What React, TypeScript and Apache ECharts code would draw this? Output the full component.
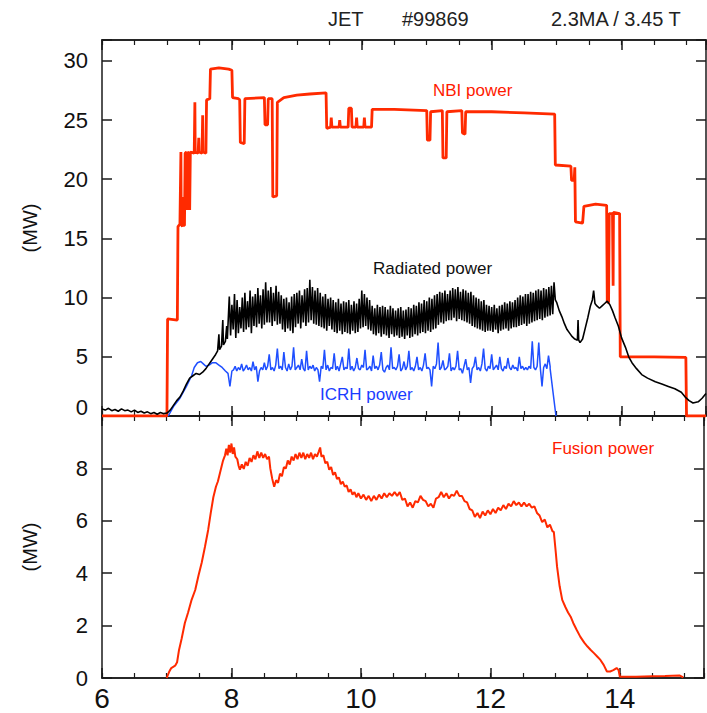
import React, { useEffect, useRef } from "react";
import * as echarts from "echarts";

// ---------- data ----------
const X_TICK_LABELS = [6, 8, 10, 12, 14];

// NBI power (MW) – step-like trace
const nbiPower: [number, number][] = [
  [6.0, 0], [7.0, 0], [7.01, 8.2], [7.16, 8.1], [7.17, 16.0], [7.2, 16.2], [7.215, 22.3], [7.22, 16.2],
  [7.24, 16.0], [7.25, 18.5], [7.255, 16.1], [7.27, 16.1], [7.28, 22.2], [7.3, 22.3], [7.31, 17.4],
  [7.32, 22.2], [7.34, 22.3], [7.35, 17.4], [7.36, 22.3], [7.42, 22.2], [7.43, 26.5], [7.435, 22.3],
  [7.48, 22.2], [7.49, 23.5], [7.495, 22.3], [7.54, 22.2], [7.55, 25.4], [7.555, 22.3], [7.6, 22.2],
  [7.61, 26.7], [7.66, 26.8], [7.67, 29.3], [7.8, 29.4], [7.95, 29.3], [8.0, 29.2], [8.01, 26.9],
  [8.1, 26.8], [8.12, 26.7], [8.13, 23.1], [8.19, 23.0], [8.2, 26.8], [8.5, 26.9], [8.51, 24.6],
  [8.55, 24.6], [8.56, 26.8], [8.62, 26.8], [8.63, 18.5], [8.69, 18.6], [8.7, 26.5], [8.8, 26.9],
  [9.0, 27.1], [9.2, 27.2], [9.45, 27.3], [9.46, 24.3], [9.52, 24.4], [9.53, 25.2], [9.54, 24.4],
  [9.65, 24.4], [9.66, 25.0], [9.67, 24.4], [9.79, 24.4], [9.8, 26.0], [9.84, 26.0], [9.85, 24.4],
  [9.91, 24.4], [9.92, 25.2], [9.93, 24.4], [10.03, 24.4], [10.04, 25.2], [10.05, 24.4], [10.15, 24.4],
  [10.16, 25.9], [10.5, 25.9], [11.0, 25.8], [11.01, 23.3], [11.05, 23.3], [11.06, 25.7], [11.24, 25.8],
  [11.25, 21.8], [11.3, 21.8], [11.31, 25.7], [11.54, 25.8], [11.55, 23.9], [11.59, 23.8], [11.6, 25.7],
  [12.0, 25.7], [12.5, 25.6], [12.97, 25.5], [12.98, 21.2], [13.22, 21.1], [13.23, 19.9], [13.27, 19.9],
  [13.28, 21.0], [13.29, 16.4], [13.4, 16.3], [13.42, 17.7], [13.6, 17.9], [13.77, 17.8], [13.78, 9.6],
  [13.8, 9.6], [13.81, 17.1], [13.86, 17.1], [13.87, 11.0], [13.875, 17.2], [13.97, 17.1], [13.98, 5.0],
  [14.5, 5.0], [14.99, 4.95], [15.0, 0], [15.3, 0],
];

// Radiated power (MW)
const radiatedHead: [number, number][] = [
  [6.0, 0.6], [6.05, 0.5], [6.1, 0.65], [6.15, 0.45], [6.2, 0.55], [6.25, 0.4], [6.3, 0.6], [6.35, 0.45],
  [6.4, 0.5], [6.45, 0.35], [6.5, 0.5], [6.55, 0.3], [6.6, 0.4], [6.65, 0.25], [6.7, 0.35], [6.75, 0.2],
  [6.8, 0.3], [6.85, 0.15], [6.9, 0.3], [6.95, 0.2], [7.0, 0.25], [7.05, 0.5], [7.1, 0.9], [7.15, 1.3],
  [7.2, 1.6], [7.25, 2.1], [7.3, 2.7], [7.35, 3.2], [7.4, 3.4], [7.45, 3.6], [7.5, 3.5], [7.55, 3.7],
  [7.6, 4.0], [7.65, 4.4], [7.7, 4.8], [7.75, 5.2], [7.78, 5.5], [7.8, 6.9], [7.81, 5.6], [7.84, 5.9],
  [7.86, 8.1], [7.87, 6.0], [7.9, 6.3], [7.92, 7.6], [7.93, 6.5],
];
// sampled every 0.02 s from 7.96 s
const RAD_START = 7.96;
const RAD_STEP = 0.02;
const radiatedSamples = [
  10.1, 6.8, 9.4, 7.3, 10.3, 6.6, 9.8, 7.0, 9.2, 7.4,
  10.0, 7.1, 10.4, 7.3, 9.7, 7.5, 10.6, 7.0, 10.1, 7.6,
  10.3, 7.5, 10.8, 7.8, 10.2, 7.4, 10.7, 7.7, 11.3, 7.9,
  10.6, 7.9, 10.9, 7.6, 10.4, 8.0, 11.0, 7.7, 10.5, 7.8,
  10.2, 7.3, 9.9, 7.1, 10.0, 7.4, 9.6, 7.2, 10.1, 7.0,
  10.3, 7.5, 10.4, 7.8, 10.6, 7.4, 10.2, 7.9, 10.7, 7.6,
  10.8, 7.9, 11.5, 8.1, 10.9, 7.8, 10.6, 7.7, 10.8, 7.6,
  10.4, 7.5, 10.1, 7.4, 10.3, 7.2, 9.9, 7.6, 10.0, 7.3,
  9.8, 7.1, 9.6, 7.0, 9.9, 7.2, 9.5, 6.9, 9.7, 7.1,
  9.6, 7.0, 9.8, 6.9, 9.4, 7.2, 9.7, 7.0, 9.5, 7.1,
  9.9, 7.4, 10.6, 7.5, 10.3, 7.6, 10.0, 7.3, 9.8, 7.2,
  9.3, 6.9, 9.1, 6.8, 9.4, 7.0, 9.2, 6.7, 9.3, 6.9,
  9.2, 6.8, 9.0, 6.6, 9.3, 6.9, 9.1, 6.7, 8.9, 6.8,
  9.1, 6.6, 9.2, 6.7, 8.9, 6.5, 9.0, 6.8, 9.2, 6.6,
  9.1, 6.7, 9.4, 6.9, 9.3, 6.8, 9.6, 7.0, 9.5, 7.1,
  9.8, 7.0, 9.7, 7.2, 10.0, 7.1, 9.9, 7.3, 10.2, 7.4,
  10.3, 7.7, 10.5, 7.9, 10.4, 7.8, 10.6, 8.0, 10.3, 8.1,
  10.6, 8.1, 10.8, 8.3, 10.7, 8.0, 10.9, 8.2, 10.5, 8.1,
  10.7, 8.0, 10.6, 7.9, 10.4, 7.8, 10.5, 7.6, 10.2, 7.5,
  10.0, 7.4, 9.9, 7.3, 9.7, 7.2, 9.8, 7.1, 9.4, 7.2,
  9.3, 7.2, 9.2, 7.1, 9.4, 7.3, 9.1, 7.0, 9.3, 7.2,
  9.4, 7.3, 9.6, 7.4, 9.5, 7.2, 9.7, 7.4, 9.6, 7.5,
  9.8, 7.5, 10.0, 7.6, 10.2, 7.7, 10.1, 7.8, 10.3, 7.6,
  10.3, 7.8, 10.5, 7.9, 10.4, 8.0, 10.6, 8.1, 10.7, 8.2,
  10.6, 8.1, 10.8, 8.3, 10.7, 8.4, 10.9, 8.5, 11.0, 8.6,
  11.3, 9.8,
];
const radiatedTail: [number, number][] = [
  [13.0, 9.6], [13.04, 8.9], [13.08, 8.4], [13.12, 7.8], [13.16, 7.3], [13.2, 7.0], [13.24, 6.7],
  [13.28, 6.5], [13.32, 6.4], [13.33, 8.1], [13.34, 6.4], [13.36, 6.2], [13.4, 6.5], [13.44, 7.4],
  [13.48, 8.3], [13.52, 9.3], [13.55, 9.8], [13.57, 10.6], [13.59, 9.5], [13.62, 9.3], [13.66, 9.1],
  [13.7, 9.3], [13.74, 9.5], [13.78, 9.7], [13.82, 9.4], [13.86, 8.9], [13.9, 8.3], [13.95, 7.6],
  [14.0, 6.6], [14.06, 5.8], [14.11, 5.0], [14.16, 4.5], [14.23, 4.0], [14.31, 3.5], [14.4, 3.2],
  [14.52, 2.9], [14.62, 2.7], [14.72, 2.5], [14.82, 2.3], [14.92, 2.0], [14.98, 1.6], [15.04, 1.3],
  [15.1, 1.1], [15.18, 1.2], [15.24, 1.5], [15.3, 1.9],
];

// ICRH power (MW)
const icrhHead: [number, number][] = [
  [7.02, 0], [7.1, 0.8], [7.2, 1.5], [7.3, 2.5], [7.38, 3.4], [7.42, 4.1], [7.47, 4.5], [7.52, 4.6],
  [7.56, 4.4], [7.6, 4.2], [7.65, 4.3], [7.7, 4.5], [7.75, 4.5], [7.8, 4.3], [7.85, 4.1], [7.9, 3.8],
  [7.94, 3.6], [7.97, 2.5], [8.0, 3.8],
];
// sampled every 0.025 s from 8.025 s
const ICRH_START = 8.025;
const ICRH_STEP = 0.025;
const icrhSamples = [
  3.9, 4.2, 3.8, 4.1, 3.9, 4.4, 3.8, 4.0, 4.3, 3.9,
  4.1, 3.8, 4.6, 3.9, 4.2, 2.9, 3.8, 4.1, 3.9, 4.5,
  3.9, 4.2, 5.2, 3.9, 4.1, 3.8, 4.3, 5.7, 4.0, 4.2,
  3.9, 5.4, 4.1, 3.8, 4.4, 3.9, 4.2, 5.8, 3.9, 4.1,
  4.3, 3.9, 4.8, 4.0, 3.8, 5.5, 3.9, 4.2, 4.0, 4.3,
  3.8, 4.1, 3.9, 2.9, 4.2, 4.0, 5.6, 3.9, 4.3, 3.8,
  4.1, 4.0, 5.3, 3.9, 4.2, 3.8, 4.4, 5.0, 3.9, 4.1,
  4.0, 5.7, 3.9, 4.2, 3.8, 4.1, 4.9, 4.0, 3.9, 4.3,
  4.1, 5.6, 3.9, 4.0, 4.2, 3.8, 5.1, 4.0, 4.2, 3.9,
  4.3, 5.4, 3.9, 3.7, 4.1, 4.3, 3.9, 5.8, 4.0, 4.1,
  3.9, 4.2, 5.2, 3.8, 4.0, 4.6, 3.9, 4.2, 5.5, 3.9,
  4.1, 3.8, 4.2, 5.0, 3.9, 4.1, 3.8, 4.3, 5.3, 4.0,
  4.1, 3.9, 2.5, 4.2, 4.0, 4.4, 6.2, 3.9, 4.1, 4.7,
  3.9, 4.0, 4.2, 5.3, 3.8, 4.1, 3.9, 4.2, 5.5, 3.9,
  4.0, 3.6, 4.2, 4.8, 3.9, 4.1, 2.8, 4.0, 4.2, 5.0,
  3.9, 4.1, 3.8, 4.4, 5.7, 4.0, 3.8, 4.2, 4.0, 5.2,
  3.9, 4.1, 4.3, 3.9, 5.0, 4.0, 3.8, 4.2, 4.0, 4.9,
  4.1, 3.9, 4.3, 4.0, 4.1, 3.8, 5.0, 4.0, 4.2, 3.9,
  4.1, 3.9, 4.2, 4.0, 6.3, 4.1, 3.9, 4.2, 6.2, 4.0,
  2.5, 4.1, 4.4, 4.0, 5.1, 4.2,
];
const icrhTail: [number, number][] = [[12.9, 4.0], [12.94, 2.2], [12.99, 0.0]];

// Fusion power (MW)
const fusionPower: [number, number][] = [
  [7.0, 0], [7.04, 0.25], [7.07, 0.38], [7.13, 0.47], [7.16, 0.6], [7.19, 1.07], [7.23, 1.5], [7.28, 2.1],
  [7.33, 2.5], [7.38, 2.95], [7.44, 3.36], [7.49, 3.9], [7.54, 4.4], [7.59, 5.0], [7.64, 5.65], [7.68, 6.3],
  [7.72, 6.9], [7.76, 7.3], [7.79, 7.5], [7.83, 7.9], [7.87, 8.3], [7.9, 8.5], [7.92, 8.75], [7.94, 8.5],
  [7.96, 8.9], [7.98, 8.6], [8.0, 8.95], [8.02, 8.55], [8.04, 8.8], [8.06, 8.45], [8.09, 8.35], [8.11, 8.1],
  [8.13, 7.95], [8.16, 8.15], [8.19, 7.98], [8.22, 8.25], [8.25, 8.1], [8.28, 8.4], [8.31, 8.25], [8.34, 8.5],
  [8.37, 8.35], [8.4, 8.65], [8.43, 8.4], [8.46, 8.6], [8.49, 8.4], [8.52, 8.55], [8.55, 8.35], [8.58, 8.45],
  [8.6, 8.0], [8.63, 7.6], [8.66, 7.3], [8.69, 7.55], [8.72, 7.45], [8.75, 7.8], [8.78, 7.7], [8.81, 8.05],
  [8.84, 8.0], [8.87, 8.3], [8.9, 8.15], [8.93, 8.45], [8.96, 8.3], [8.99, 8.55], [9.02, 8.35], [9.05, 8.6],
  [9.08, 8.4], [9.11, 8.6], [9.14, 8.35], [9.17, 8.55], [9.2, 8.4], [9.23, 8.6], [9.26, 8.35], [9.29, 8.55],
  [9.32, 8.45], [9.35, 8.65], [9.37, 8.8], [9.39, 8.45], [9.42, 8.5], [9.45, 8.2], [9.48, 8.25], [9.51, 7.95],
  [9.54, 8.05], [9.57, 7.75], [9.6, 7.85], [9.63, 7.6], [9.66, 7.65], [9.69, 7.4], [9.72, 7.5], [9.75, 7.3],
  [9.78, 7.35], [9.81, 7.1], [9.84, 7.2], [9.87, 7.0], [9.9, 7.1], [9.93, 6.9], [9.96, 7.05], [10.0, 6.85],
  [10.04, 7.0], [10.08, 6.8], [10.12, 6.95], [10.16, 6.75], [10.2, 6.95], [10.24, 6.8], [10.28, 7.0],
  [10.32, 6.85], [10.36, 7.05], [10.4, 6.9], [10.44, 7.05], [10.48, 6.95], [10.52, 7.1], [10.56, 6.95],
  [10.6, 7.1], [10.64, 6.8], [10.68, 6.85], [10.72, 6.55], [10.76, 6.7], [10.8, 6.5], [10.84, 6.75],
  [10.88, 6.7], [10.92, 6.95], [10.96, 6.8], [11.0, 6.75], [11.04, 6.55], [11.08, 6.65], [11.12, 6.5],
  [11.16, 6.85], [11.2, 6.9], [11.24, 7.1], [11.28, 6.9], [11.32, 7.05], [11.36, 6.85], [11.4, 7.0],
  [11.44, 6.95], [11.48, 7.15], [11.52, 6.95], [11.56, 6.95], [11.6, 6.75], [11.64, 6.7], [11.68, 6.45],
  [11.72, 6.4], [11.76, 6.15], [11.8, 6.3], [11.84, 6.1], [11.88, 6.35], [11.92, 6.2], [11.96, 6.4],
  [12.0, 6.25], [12.04, 6.45], [12.08, 6.3], [12.12, 6.5], [12.16, 6.4], [12.2, 6.6], [12.24, 6.45],
  [12.28, 6.65], [12.32, 6.55], [12.36, 6.75], [12.4, 6.6], [12.44, 6.7], [12.48, 6.55], [12.52, 6.7],
  [12.56, 6.55], [12.6, 6.65], [12.64, 6.5], [12.68, 6.55], [12.72, 6.3], [12.76, 6.2], [12.8, 5.95],
  [12.84, 6.05], [12.88, 5.75], [12.92, 5.85], [12.96, 5.6], [12.98, 5.58], [13.01, 4.8], [13.03, 4.25],
  [13.07, 3.5], [13.11, 2.98], [13.16, 2.7], [13.2, 2.5], [13.24, 2.34], [13.28, 2.1], [13.33, 1.85],
  [13.39, 1.57], [13.45, 1.35], [13.5, 1.2], [13.55, 1.07], [13.6, 0.95], [13.65, 0.82], [13.7, 0.69],
  [13.75, 0.5], [13.8, 0.25], [13.85, 0.25], [13.9, 0.3], [13.95, 0.38], [13.98, 0.3], [14.0, 0.05],
  [14.1, 0.05], [14.25, 0.05], [14.5, 0.07], [14.7, 0.08], [14.92, 0.1], [14.98, 0.02],
];

// ---------- chart ----------
const FONT = "'Liberation Sans', Arial, sans-serif";
const AXIS_COLOR = "#1a1a1a";

function xAxes(gridIndex: number, position: "top" | "bottom", showLabels: boolean) {
  const common = {
    type: "value",
    gridIndex,
    position,
    min: 6,
    max: 15.3,
    splitLine: { show: false },
    axisLine: { show: true, onZero: false, lineStyle: { color: AXIS_COLOR, width: 1.5 } },
  };
  return [
    {
      ...common,
      interval: 0.5,
      axisTick: { show: true, inside: true, length: 5, lineStyle: { color: AXIS_COLOR, width: 1.2 } },
      axisLabel: { show: false },
    },
    {
      ...common,
      interval: 2,
      axisTick: { show: true, inside: true, length: 10, lineStyle: { color: AXIS_COLOR, width: 1.5 } },
      axisLabel: {
        show: showLabels,
        margin: 6,
        fontFamily: "'Liberation Sans Narrow', 'Liberation Sans', sans-serif",
        fontSize: 28,
        color: "#111",
        formatter: (v: number) => (X_TICK_LABELS.includes(v) ? String(v) : ""),
      },
    },
  ];
}

function yAxes(gridIndex: number, max: number, interval: number, shiftZero: boolean) {
  const common = {
    type: "value",
    gridIndex,
    min: 0,
    max,
    interval,
    splitLine: { show: false },
    axisLine: { show: true, onZero: false, lineStyle: { color: AXIS_COLOR, width: 1.5 } },
    axisTick: { show: true, inside: true, length: 10, lineStyle: { color: AXIS_COLOR, width: 1.5 } },
  };
  return [
    {
      ...common,
      position: "left",
      name: "(MW)",
      nameLocation: "middle",
      nameRotate: 90,
      nameGap: 62,
      nameTextStyle: { fontFamily: FONT, fontSize: 20, color: "#111" },
      axisLabel: {
        show: true,
        margin: 14,
        fontFamily: FONT,
        fontSize: 22,
        color: "#111",
        formatter: (v: number) => {
          if (Math.abs(v % interval) > 1e-6 || v >= max - 1e-6) return "";
          if (v === 0 && shiftZero) return "{z|0}";
          return String(v);
        },
        rich: { z: { fontFamily: FONT, fontSize: 22, color: "#111", padding: [0, 0, 18, 0] } },
      },
    },
    { ...common, position: "right", axisLabel: { show: false } },
  ];
}

export default function App() {
  const ref = useRef<HTMLDivElement>(null);

  useEffect(() => {
    if (!ref.current) return;
    const chart = echarts.init(ref.current, undefined, { renderer: "svg" });

    const radiated: [number, number][] = radiatedHead
      .concat(radiatedSamples.map((v, i) => [RAD_START + i * RAD_STEP, v] as [number, number]))
      .concat(radiatedTail);
    const icrh: [number, number][] = icrhHead
      .concat(icrhSamples.map((v, i) => [ICRH_START + i * ICRH_STEP, v] as [number, number]))
      .concat(icrhTail);

    const text = (t: string, x: number, y: number, color: string, size: number) => ({
      type: "text",
      x,
      y,
      style: { text: t, fill: color, font: `${size}px ${FONT}`, textVerticalAlign: "middle" },
      z: 100,
    });

    chart.setOption({
      animation: false,
      backgroundColor: "#ffffff",
      grid: [
        { left: 102, right: 1, top: 40, height: 376 },
        { left: 102, right: 1, top: 416, height: 262 },
      ],
      xAxis: [
        ...xAxes(0, "bottom", false),
        ...xAxes(0, "top", false),
        ...xAxes(1, "bottom", true),
        ...xAxes(1, "top", false),
      ],
      yAxis: [...yAxes(0, 31.76, 5, true), ...yAxes(1, 10, 2, false)],
      series: [
        {
          name: "NBI power",
          type: "line",
          xAxisIndex: 0,
          yAxisIndex: 0,
          data: nbiPower,
          showSymbol: false,
          symbol: "none",
          lineStyle: { color: "#ff2a00", width: 2.8 },
          z: 2,
        },
        {
          name: "ICRH power",
          type: "line",
          xAxisIndex: 0,
          yAxisIndex: 0,
          data: icrh,
          showSymbol: false,
          symbol: "none",
          lineStyle: { color: "#1f4fff", width: 1.5 },
          z: 3,
        },
        {
          name: "Radiated power",
          type: "line",
          xAxisIndex: 0,
          yAxisIndex: 0,
          data: radiated,
          showSymbol: false,
          symbol: "none",
          lineStyle: { color: "#000000", width: 1.6 },
          z: 4,
        },
        {
          name: "Fusion power",
          type: "line",
          xAxisIndex: 4,
          yAxisIndex: 2,
          data: fusionPower,
          showSymbol: false,
          symbol: "none",
          lineStyle: { color: "#ff2a00", width: 2 },
          z: 2,
        },
      ],
      graphic: [
        text("JET", 328, 19, "#222", 20),
        text("#99869", 402, 19, "#222", 20),
        text("2.3MA / 3.45 T", 551, 19, "#222", 20),
        text("NBI power", 433, 90, "#ff1a00", 17),
        text("Radiated power", 373, 268, "#111", 17),
        text("ICRH power", 320, 394, "#1a3cff", 17),
        text("Fusion power", 552, 448, "#ff1a00", 17),
      ],
    });

    return () => chart.dispose();
  }, []);

  return (
    <div
      ref={ref}
      style={{ position: "absolute", left: 0, top: 0, width: 707, height: 713, background: "#fff" }}
    />
  );
}
